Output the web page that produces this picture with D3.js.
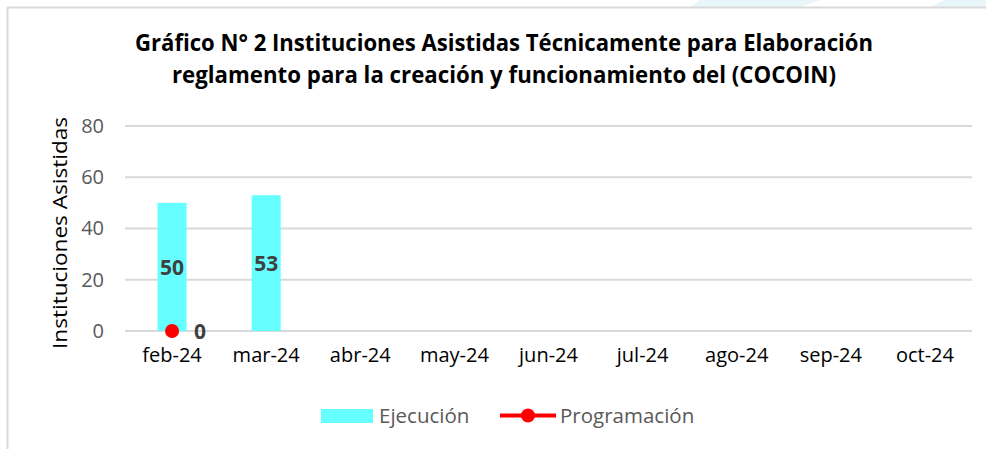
<!DOCTYPE html>
<html>
<head>
<meta charset="utf-8">
<script src="https://cdn.jsdelivr.net/npm/d3@7"></script>
<style>
  body { margin: 0; background: #fff; }
  svg { display: block; font-family: "Open Sans", sans-serif; }
</style>
</head>
<body>
<div class="chart"></div>
<script>
// data
const months = ["feb-24", "mar-24", "abr-24", "may-24", "jun-24", "jul-24", "ago-24", "sep-24", "oct-24"];
const ejecucion = [50, 53];
const programacion = [0];
const yTicks = [0, 20, 40, 60, 80];
const titleLines = [
  "Gráfico N° 2 Instituciones Asistidas Técnicamente para Elaboración",
  "reglamento para la creación y funcionamiento del (COCOIN)"
];

const W = 986, H = 449;
const svg = d3.select(".chart").append("svg")
  .attr("width", W).attr("height", H);

// slide decoration + frame
svg.append("polygon").attr("points", "700,0 820,0 800,7 690,7").attr("fill", "#e8f6fa");
svg.append("polygon").attr("points", "945,0 986,0 986,7 930,7").attr("fill", "#e8f6fa");
svg.append("line").attr("x1", 7).attr("x2", W).attr("y1", 7.5).attr("y2", 7.5)
  .attr("stroke", "#d9d9d9").attr("stroke-width", 2);
svg.append("line").attr("x1", 7.5).attr("x2", 7.5).attr("y1", 7).attr("y2", H)
  .attr("stroke", "#d9d9d9").attr("stroke-width", 2);

// title
svg.append("g").selectAll("text")
  .data(titleLines)
  .enter().append("text")
  .attr("x", 504)
  .attr("y", (d, i) => 51 + i * 32)
  .attr("text-anchor", "middle")
  .attr("font-weight", "bold")
  .attr("font-size", 23)
  .attr("fill", "#000")
  .attr("textLength", (d, i) => i == 0 ? 738 : 664)
  .attr("lengthAdjust", "spacingAndGlyphs")
  .text(d => d);

const x = d3.scaleBand().domain(months).range([125, 972]);
const y = d3.scaleLinear().domain([0, 80]).range([331, 126]);

// gridlines
svg.append("g").selectAll("line")
  .data(yTicks)
  .enter().append("line")
  .attr("x1", 125).attr("x2", 972)
  .attr("y1", d => y(d)).attr("y2", d => y(d))
  .attr("stroke", "#d9d9d9").attr("stroke-width", 2);

// y axis
const yAxis = svg.append("g")
  .attr("transform", "translate(104,0)")
  .call(d3.axisLeft(y).tickValues(yTicks).tickSize(0).tickPadding(0));
yAxis.select(".domain").remove();
yAxis.selectAll("text")
  .attr("font-family", "Open Sans, sans-serif")
  .attr("font-size", 20)
  .attr("fill", "#595959");

// x axis
const xAxis = svg.append("g")
  .attr("transform", "translate(0,348)")
  .call(d3.axisBottom(x).tickSize(0).tickPadding(0));
xAxis.select(".domain").remove();
xAxis.selectAll("text")
  .attr("font-family", "Open Sans, sans-serif")
  .attr("font-size", 20)
  .attr("fill", "#000")
  .attr("dy", "0.71em");

// y axis title
svg.append("text")
  .attr("transform", "translate(67,233) rotate(-90)")
  .attr("text-anchor", "middle")
  .attr("font-size", 20)
  .attr("fill", "#000")
  .attr("textLength", 232)
  .attr("lengthAdjust", "spacingAndGlyphs")
  .text("Instituciones Asistidas");

// bars
const barW = 29;
svg.append("g").selectAll("rect")
  .data(ejecucion)
  .enter().append("rect")
  .attr("x", (d, i) => x(months[i]) + x.bandwidth() / 2 - barW / 2)
  .attr("y", d => y(d))
  .attr("width", barW)
  .attr("height", d => y(0) - y(d))
  .attr("fill", "#66ffff");

svg.append("g").selectAll("text")
  .data(ejecucion)
  .enter().append("text")
  .attr("x", (d, i) => x(months[i]) + x.bandwidth() / 2)
  .attr("y", d => (y(d) + y(0)) / 2 + 8)
  .attr("text-anchor", "middle")
  .attr("font-weight", "bold")
  .attr("font-size", 21)
  .attr("fill", "#404040")
  .text(d => d);

// programacion line + points
const line = d3.line()
  .x((d, i) => x(months[i]) + x.bandwidth() / 2)
  .y(d => y(d));
svg.append("path")
  .datum(programacion)
  .attr("d", line)
  .attr("fill", "none")
  .attr("stroke", "#ff0000")
  .attr("stroke-width", 4);

svg.append("g").selectAll("circle")
  .data(programacion)
  .enter().append("circle")
  .attr("cx", (d, i) => x(months[i]) + x.bandwidth() / 2)
  .attr("cy", d => y(d))
  .attr("r", 7)
  .attr("fill", "#ff0000");

svg.append("g").selectAll("text")
  .data(programacion)
  .enter().append("text")
  .attr("x", (d, i) => x(months[i]) + x.bandwidth() / 2 + 22)
  .attr("y", d => y(d) + 8)
  .attr("font-weight", "bold")
  .attr("font-size", 21)
  .attr("fill", "#404040")
  .text(d => d);

// legend
const legend = svg.append("g");
legend.append("rect")
  .attr("x", 321).attr("y", 409).attr("width", 52).attr("height", 14)
  .attr("fill", "#66ffff");
legend.append("text")
  .attr("x", 379).attr("y", 423)
  .attr("font-size", 20.5).attr("fill", "#595959")
  .text("Ejecución");
legend.append("line")
  .attr("x1", 500).attr("x2", 556).attr("y1", 415.5).attr("y2", 415.5)
  .attr("stroke", "#ff0000").attr("stroke-width", 4);
legend.append("circle")
  .attr("cx", 528).attr("cy", 415.5).attr("r", 7)
  .attr("fill", "#ff0000");
legend.append("text")
  .attr("x", 560).attr("y", 423)
  .attr("font-size", 20.5).attr("fill", "#595959")
  .text("Programación");
</script>
</body>
</html>
